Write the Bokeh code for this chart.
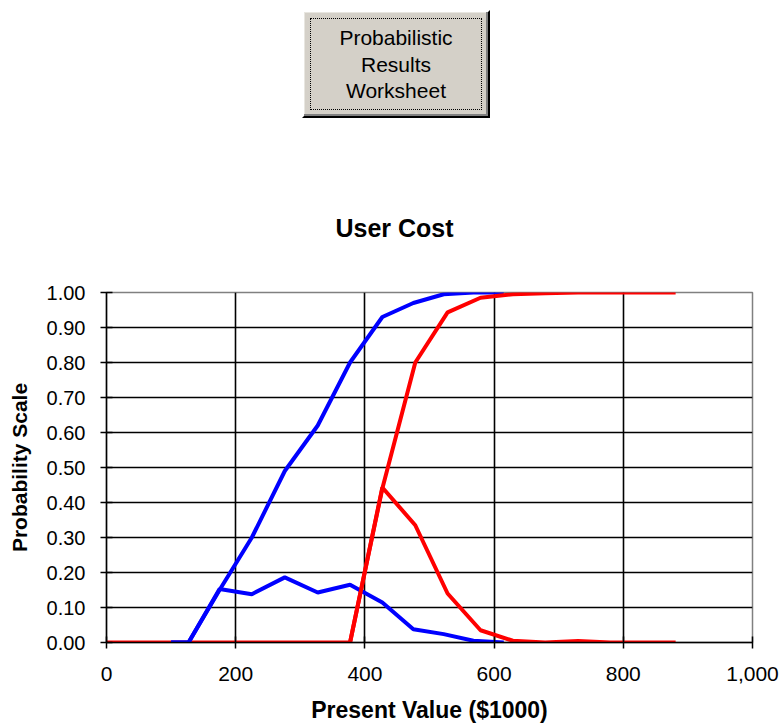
from bokeh.plotting import figure
from bokeh.models import Div, FixedTicker, NumeralTickFormatter, Range1d
from bokeh.layouts import column
from bokeh.embed import file_html
from bokeh.resources import INLINE

# ---- data ----
blue_x = [100, 127, 175, 225, 276, 327, 377, 427, 475, 522, 568, 615]
blue_cdf = [0, 0, 0.15, 0.30, 0.49, 0.62, 0.80, 0.93, 0.97, 0.995, 1.0, 1.0]
blue_pdf = [0, 0, 0.153, 0.138, 0.186, 0.143, 0.165, 0.114, 0.038, 0.024, 0.005, 0]

red_pdf_x = [0, 377, 427, 478, 528, 579, 629, 679, 730, 780, 830, 881]
red_pdf = [0, 0, 0.443, 0.335, 0.14, 0.035, 0.005, 0, 0.004, 0, 0, 0]
red_cdf_x = [377, 427, 478, 528, 579, 629, 679, 730, 780, 830, 881]
red_cdf = [0, 0.44, 0.80, 0.943, 0.985, 0.995, 0.998, 1.0, 1.0, 1.0, 1.0]

x_ticks = [0, 200, 400, 600, 800, 1000]
y_ticks = [0.0, 0.1, 0.2, 0.3, 0.4, 0.5, 0.6, 0.7, 0.8, 0.9, 1.0]

title_text = "User Cost"
x_label = "Present Value ($1000)"
y_label = "Probability Scale"
button_lines = ["Probabilistic", "Results", "Worksheet"]

# ---- button (HTML) ----
btn_html = (
    '<div style="position:relative;width:780px;height:160px;">'
    '<div style="position:absolute;left:302px;top:10px;width:188px;height:108px;'
    'box-sizing:border-box;background:#d4d0c8;'
    'border-top:2px solid #ffffff;border-left:2px solid #ffffff;'
    'border-right:2px solid #000000;border-bottom:2px solid #000000;'
    'box-shadow:inset -2px -2px 0 #808080, inset 1px 1px 0 #e8e6e0;">'
    '<div style="position:absolute;left:6px;top:6px;right:6px;bottom:6px;'
    'border:1px dotted #000000;"></div>'
    '<div style="position:absolute;left:0;right:0;top:13px;text-align:center;'
    'font-family:\'Liberation Sans\',Arial,sans-serif;font-size:21px;'
    'line-height:26.7px;color:#000000;">'
    + "<br>".join(button_lines) +
    '</div></div></div>'
)
div = Div(text=btn_html, width=780, height=160, margin=(0, 0, 0, 0))

# ---- chart ----
p = figure(width=780, height=565, output_backend="svg", toolbar_location=None,
           x_range=Range1d(0, 1000), y_range=Range1d(0, 1),
           min_border_left=106, min_border_right=28,
           min_border_top=132, min_border_bottom=83,
           background_fill_color="#ffffff", border_fill_color="#ffffff")
p.margin = (0, 0, 0, 0)

p.title.text = title_text
p.title.align = "left"
p.title.offset = 229
p.title.vertical_align = "bottom"
p.title.standoff = 101
p.title.text_font = "Liberation Sans"
p.title.text_font_size = "25px"
p.title.text_font_style = "bold"
p.title.text_color = "#000000"

p.outline_line_color = "#808080"
p.outline_line_width = 1.5

for g in (p.xgrid, p.ygrid):
    g.grid_line_color = "#000000"
    g.grid_line_width = 1.6

p.xaxis.ticker = FixedTicker(ticks=x_ticks)
p.yaxis.ticker = FixedTicker(ticks=y_ticks)
p.xgrid.ticker = FixedTicker(ticks=x_ticks)
p.ygrid.ticker = FixedTicker(ticks=y_ticks)
p.xaxis.formatter = NumeralTickFormatter(format="0,0")
p.yaxis.formatter = NumeralTickFormatter(format="0.00")

for ax in (p.xaxis[0], p.yaxis[0]):
    ax.axis_line_color = "#000000"
    ax.axis_line_width = 1.5
    ax.major_tick_line_color = "#000000"
    ax.major_tick_line_width = 1.5
    ax.major_tick_in = 6
    ax.major_tick_out = 6
    ax.minor_tick_line_color = None
    ax.major_label_text_font = "Liberation Sans"
    ax.major_label_text_color = "#000000"
    ax.axis_label_text_font = "Liberation Sans"
    ax.axis_label_text_font_style = "bold"
    ax.axis_label_text_color = "#000000"

p.xaxis.major_label_text_font_size = "21px"
p.yaxis.major_label_text_font_size = "20px"
p.xaxis.axis_label_text_font_size = "23px"
p.yaxis.axis_label_text_font_size = "21px"

p.xaxis.axis_label = x_label
p.yaxis.axis_label = y_label
p.xaxis.major_label_standoff = 18
p.xaxis.axis_label_standoff = 13
p.yaxis.major_label_standoff = 15
p.yaxis.axis_label_standoff = 13

p.line(red_pdf_x, red_pdf, line_color="#ff0000", line_width=4)
p.line(blue_x, blue_cdf, line_color="#0000ff", line_width=4)
p.line(blue_x, blue_pdf, line_color="#0000ff", line_width=4)
p.line(red_cdf_x, red_cdf, line_color="#ff0000", line_width=4)

layout = column(div, p, spacing=0)
layout.margin = (0, 0, 0, 0)

open("out.html", "w").write(file_html(layout, INLINE))
